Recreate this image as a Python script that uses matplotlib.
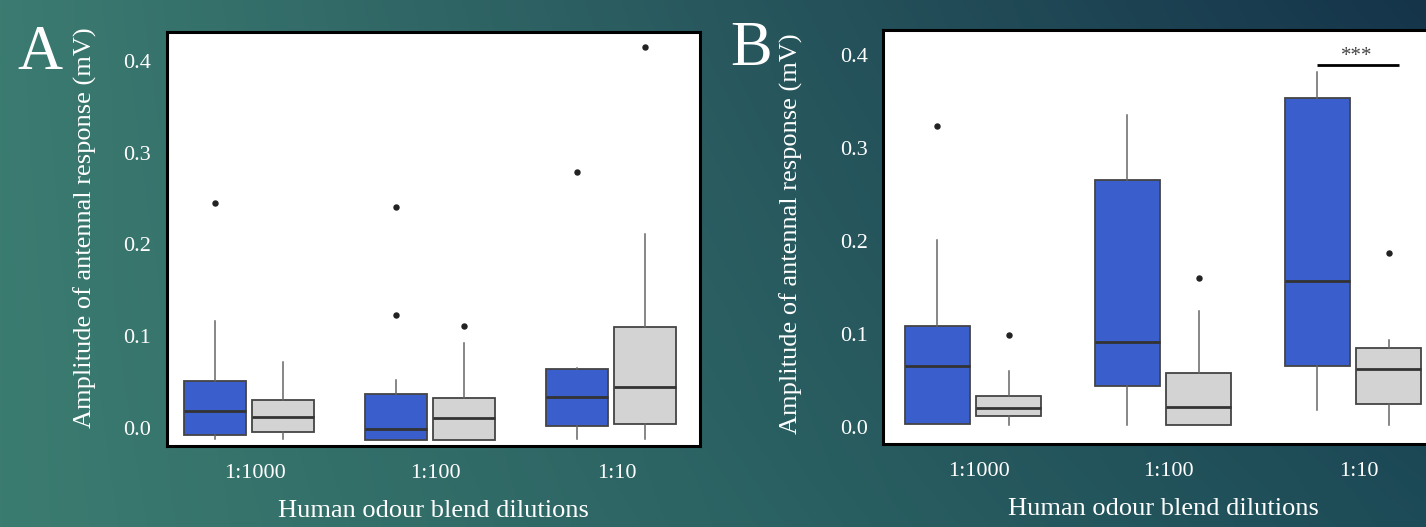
import matplotlib
matplotlib.use("Agg")
import matplotlib.pyplot as plt
import numpy as np
from matplotlib.colors import to_rgb

plt.rcParams['font.family'] = ['Liberation Serif', 'DejaVu Serif']

# ---------------- data ----------------
categories = ["1:1000", "1:100", "1:10"]
yticks = [0.0, 0.1, 0.2, 0.3, 0.4]
ytick_labels = ["0.0", "0.1", "0.2", "0.3", "0.4"]

# Panel A
A_blue_q1 = [-0.008, -0.013, 0.002]
A_blue_med = [0.018, -0.001, 0.033]
A_blue_q3 = [0.0505, 0.037, 0.0645]
A_blue_lo = [-0.012, -0.013, -0.012]
A_blue_hi = [0.117, 0.052, 0.0656]
A_blue_out = [[0.245], [0.241, 0.123], [0.279]]

A_grey_q1 = [-0.0044, -0.013, 0.0044]
A_grey_med = [0.0117, 0.0106, 0.044]
A_grey_q3 = [0.0304, 0.0326, 0.110]
A_grey_lo = [-0.012, -0.013, -0.012]
A_grey_hi = [0.0714, 0.093, 0.212]
A_grey_out = [[], [0.1106], [0.416]]

# Panel B
B_blue_q1 = [0.0032, 0.0444, 0.0657]
B_blue_med = [0.066, 0.092, 0.1567]
B_blue_q3 = [0.109, 0.266, 0.3534]
B_blue_lo = [0.0032, 0.0025, 0.0184]
B_blue_hi = [0.2007, 0.335, 0.3816]
B_blue_out = [[0.3235], [], []]

B_grey_q1 = [0.0126, 0.0025, 0.0249]
B_grey_med = [0.0202, 0.0213, 0.0628]
B_grey_q3 = [0.0332, 0.0585, 0.0852]
B_grey_lo = [0.0025, 0.0025, 0.0025]
B_grey_hi = [0.0606, 0.125, 0.0935]
B_grey_out = [[0.0986], [0.1606], [0.1877]]

sig_label = "***"
sig_y = 0.389

xlabel = "Human odour blend dilutions"
ylabel = "Amplitude of antennal response (mV)"

BLUE = "#3a5fcd"
GREY = "#d3d3d3"
TXT = "white"

W, H = 1426, 527
fig = plt.figure(figsize=(W / 100, H / 100), dpi=100)

# ---------------- gradient background ----------------
bg = fig.add_axes([0, 0, 1, 1], zorder=-10)
tl, tr = np.array(to_rgb("#3b7b71")), np.array(to_rgb("#15344a"))
bl, br = np.array(to_rgb("#3b7c70")), np.array(to_rgb("#1d4b57"))
nx, ny = 300, 120
u = np.linspace(0, 1, nx)[None, :, None]
v = np.linspace(0, 1, ny)[:, None, None]
img = (1 - v) * ((1 - u) * tl + u * tr) + v * ((1 - u) * bl + u * br)
bg.imshow(img, aspect="auto", extent=[0, 1, 0, 1], origin="upper", interpolation="bilinear")
bg.set_axis_off()


def make_stats(q1, med, q3, lo, hi, out):
    return [dict(q1=a, med=b, q3=c, whislo=d, whishi=e, fliers=f)
            for a, b, c, d, e, f in zip(q1, med, q3, lo, hi, out)]


def draw_panel(ax, blue, grey, ylim, xlim):
    x = np.arange(len(categories))
    off, wid = 0.1875, 0.343
    common = dict(widths=wid, patch_artist=True, showfliers=True,
                  medianprops=dict(color="#333333", linewidth=2.0),
                  whiskerprops=dict(color="#666666", linewidth=1.1),
                  capprops=dict(linewidth=0),
                  flierprops=dict(marker="o", markersize=3.6, markerfacecolor="#222222",
                                  markeredgecolor="#222222"),
                  manage_ticks=False)
    for stats, pos, col in ((blue, x - off, BLUE), (grey, x + off, GREY)):
        ax.bxp(stats, positions=pos,
               boxprops=dict(facecolor=col, edgecolor="#444444", linewidth=1.3),
               **common)
    ax.set_xlim(*xlim)
    ax.set_ylim(*ylim)
    ax.set_facecolor("white")
    for s in ax.spines.values():
        s.set_color("black")
        s.set_linewidth(2.2)
    ax.set_xticks(x + 0.03)
    ax.set_xticklabels(categories)
    ax.set_yticks(yticks)
    ax.set_yticklabels(ytick_labels)
    ax.tick_params(axis="both", length=0, colors=TXT, labelsize=16)
    ax.tick_params(axis="y", pad=11)
    ax.tick_params(axis="x", pad=13)
    ax.set_xlabel(xlabel, color=TXT, fontsize=19, labelpad=12)
    ax.set_ylabel(ylabel, color=TXT, fontsize=19)


# Panel A
axA = fig.add_axes([166.5 / W, 1 - 446 / H, (700 - 166.5) / W, 414 / H])
draw_panel(axA,
           make_stats(A_blue_q1, A_blue_med, A_blue_q3, A_blue_lo, A_blue_hi, A_blue_out),
           make_stats(A_grey_q1, A_grey_med, A_grey_q3, A_grey_lo, A_grey_hi, A_grey_out),
           (-0.020, 0.432), (-0.457, 2.49))
axA.yaxis.set_label_coords(-0.130, 0.527)

# Panel B
axB = fig.add_axes([883 / W, 1 - 444 / H, 560 / W, 414 / H])
draw_panel(axB,
           make_stats(B_blue_q1, B_blue_med, B_blue_q3, B_blue_lo, B_blue_hi, B_blue_out),
           make_stats(B_grey_q1, B_grey_med, B_grey_q3, B_grey_lo, B_grey_hi, B_grey_out),
           (-0.018, 0.4267), (-0.474, 2.474))
axB.yaxis.set_label_coords(-0.143, 0.507)

# significance bar
axB.plot([2 - 0.1875, 2.244], [sig_y, sig_y], color="black", linewidth=2.0, solid_capstyle="butt")
axB.text(2.02, sig_y - 0.001, sig_label, ha="center", va="bottom", fontsize=15, color="#444444")

# panel letters
fig.text(40 / W, 1 - 54 / H, "A", color=TXT, fontsize=45, ha="center", va="center")
fig.text(751 / W, 1 - 50 / H, "B", color=TXT, fontsize=45, ha="center", va="center")

fig.savefig("out.png", dpi=100)
